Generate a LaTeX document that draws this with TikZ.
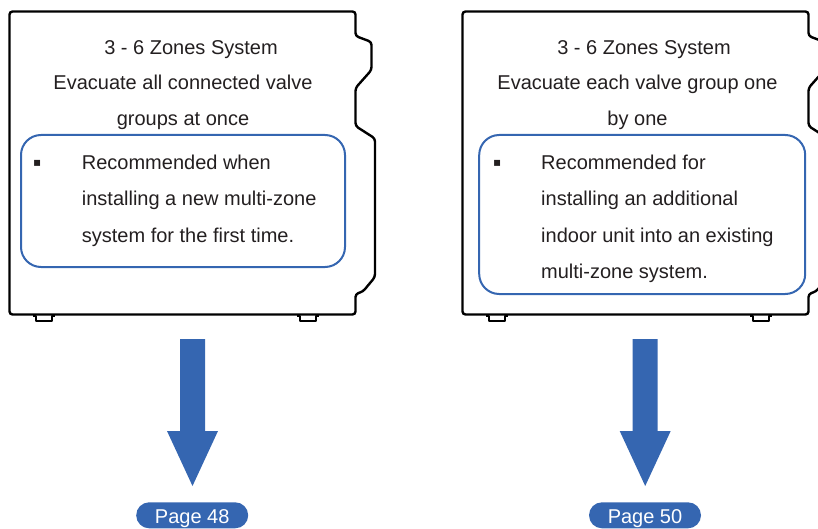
\documentclass[tikz,border=0pt]{standalone}
\usepackage{fontspec}
\setmainfont{Liberation Sans}
\newfontfamily\symfont{DejaVu Sans}
\usetikzlibrary{shapes.misc}
\definecolor{unitblue}{HTML}{3566B1}
\definecolor{inkgrey}{HTML}{231F20}

\begin{document}
\begin{tikzpicture}[x=1pt,y=-1pt,
    unit/.style={draw=black,line width=2.4pt,rounded corners=3pt,line join=round},
    foot/.style={draw=black,line width=2.4pt,line join=round},
    tipbox/.style={draw=unitblue,line width=2pt,rounded corners=20pt,inner sep=0pt},
    txt/.style={text=inkgrey,font=\fontsize{20}{24}\selectfont,inner sep=0pt},
    dot/.style={text=inkgrey,font=\symfont\fontsize{12}{14}\selectfont,inner sep=0pt},
    pagetag/.style={rounded rectangle,fill=unitblue,text=white,minimum width=112pt,
      minimum height=26pt,text height=15.4pt,text depth=0pt,
      font=\fontsize{20}{24}\selectfont,inner sep=0pt}]

    \useasboundingbox (0,0) rectangle (818,529);
    \clip (0,0) rectangle (818,529);

    \foreach \ox in {0,453}{
    \draw[unit] (9.5+\ox,11.5) -- (355.5+\ox,11.5) -- (355.5+\ox,36) -- (371.5+\ox,42)
      -- (371.5+\ox,70) -- (355.5+\ox,88) -- (355.5+\ox,126) -- (375+\ox,138.5)
      -- (375+\ox,277) -- (363+\ox,291.5) -- (355.5+\ox,294) -- (355.5+\ox,314.5)
      -- (9.5+\ox,314.5) -- cycle;
    \foreach \fx in {33,297}{
    \draw[foot] (\fx+\ox,316) -- (\fx+3+\ox,316) -- (\fx+3+\ox,321) -- (\fx+19+\ox,321)
      -- (\fx+19+\ox,316) -- (\fx+22+\ox,316);
    }
    }

    \node[txt,anchor=base] (titleA) at (191,55) {3 - 6 Zones System};
    \node[txt,anchor=base] (modeA1) at (183,90) {Evacuate all connected valve};
    \node[txt,anchor=base] (modeA2) at (183,126) {groups at once};
    \node[tipbox,minimum width=324pt,minimum height=132pt] (tipA) at (183,201) {};
    \node[dot] (dotA) at (37.2,163.8) {▪};
    \node[txt,anchor=base west] (useA1) at (81.7,170) {Recommended when};
    \node[txt,anchor=base west] (useA2) at (81.7,206) {installing a new multi-zone};
    \node[txt,anchor=base west] (useA3) at (81.7,242) {system for the first time.};

    \node[txt,anchor=base] (titleB) at (644,55) {3 - 6 Zones System};
    \node[txt,anchor=base] (modeB1) at (637.5,90) {Evacuate each valve group one};
    \node[txt,anchor=base] (modeB2) at (637.5,126) {by one};
    \node[tipbox,minimum width=326pt,minimum height=159pt] (tipB) at (642.2,214.5) {};
    \node[dot] (dotB) at (497.2,163.8) {▪};
    \node[txt,anchor=base west] (useB1) at (541,170) {Recommended for};
    \node[txt,anchor=base west] (useB2) at (541,206) {installing an additional};
    \node[txt,anchor=base west] (useB3) at (541,242) {indoor unit into an existing};
    \node[txt,anchor=base west] (useB4) at (541,278) {multi-zone system.};

    \foreach \cx in {192.5,645.2}
    \fill[unitblue] (\cx-12.5,339) -- (\cx+12.5,339) -- (\cx+12.5,431) -- (\cx+25.5,431)
      -- (\cx,486) -- (\cx-25.5,431) -- (\cx-12.5,431) -- cycle;

    \node[pagetag] (pageA) at (192.2,515.3) {Page 48};
    \node[pagetag] (pageB) at (645,515.3) {Page 50};

\end{tikzpicture}
\end{document}
